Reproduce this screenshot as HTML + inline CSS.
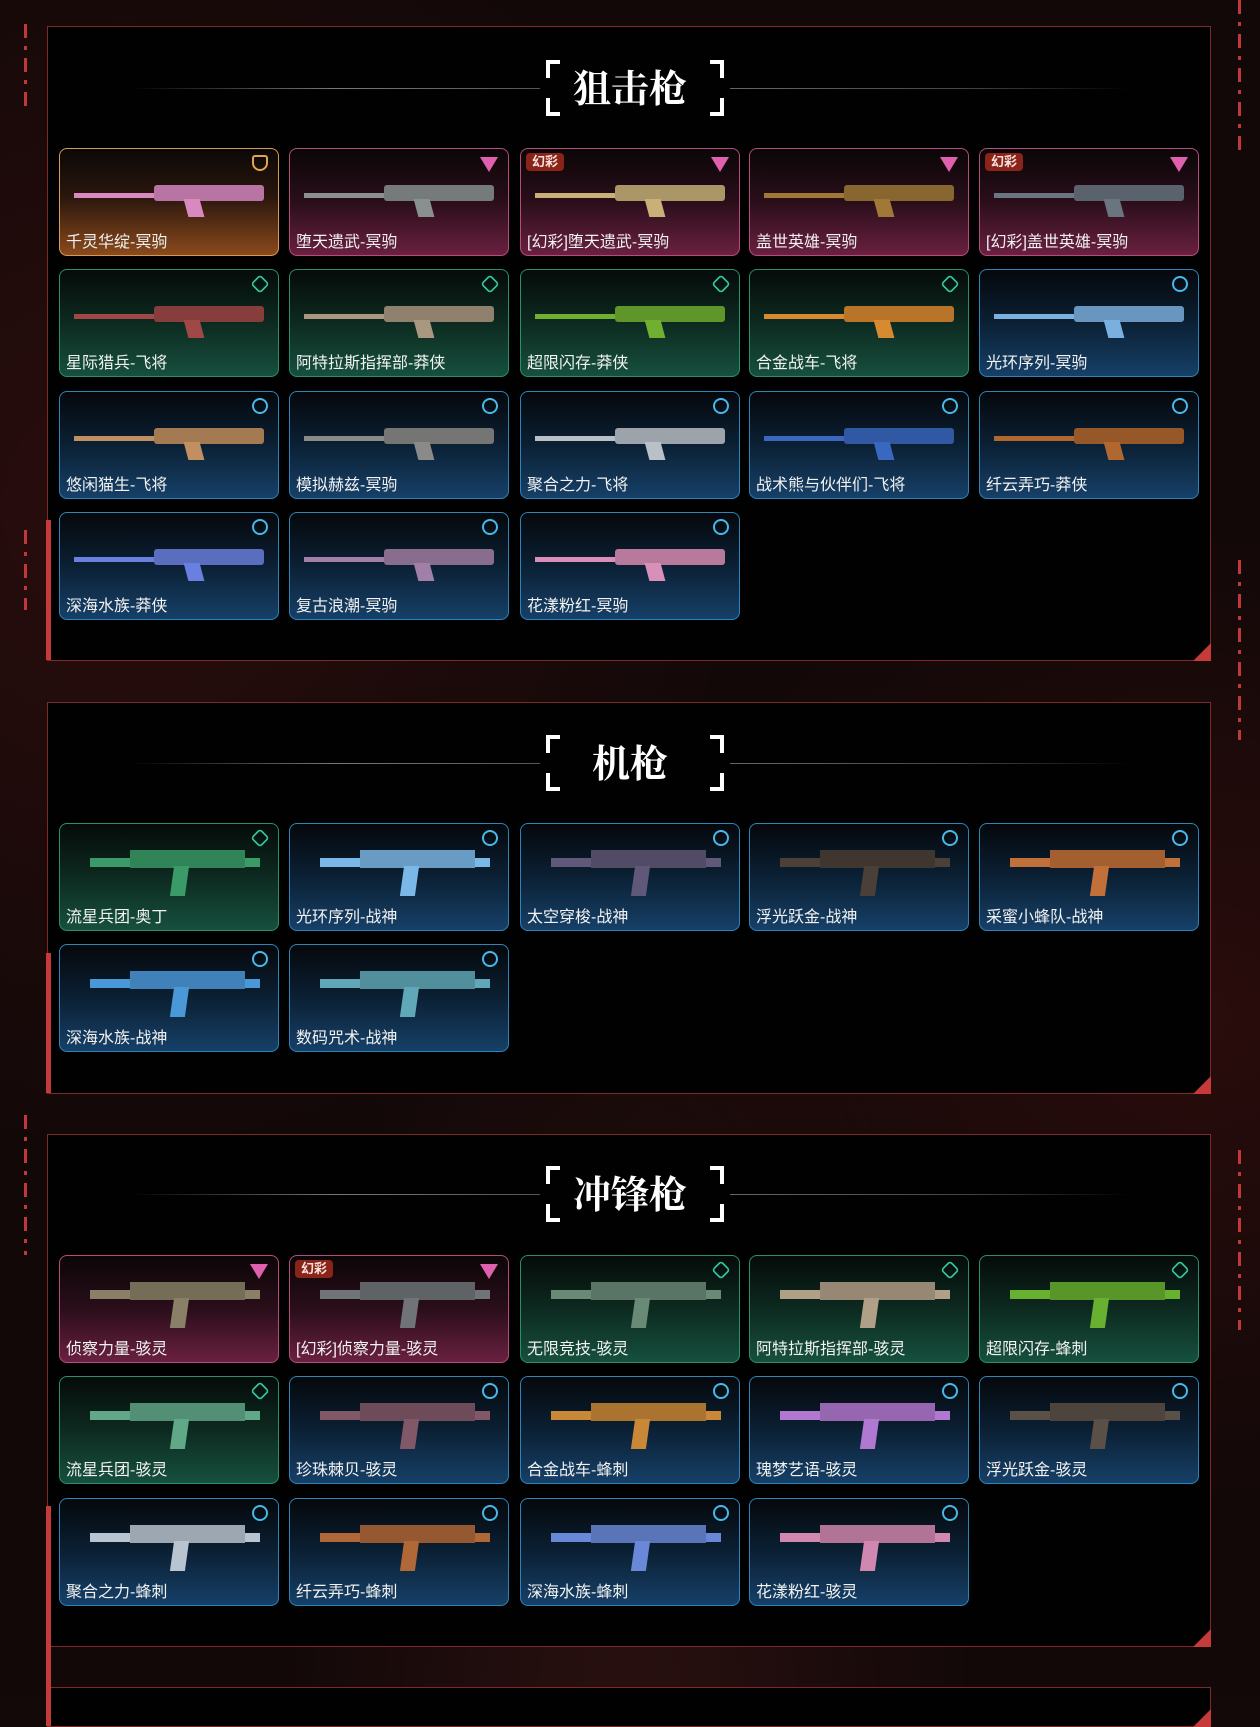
<!DOCTYPE html>
<html><head><meta charset="utf-8"><style>
*{margin:0;padding:0;box-sizing:border-box}
body{width:1260px;height:1694px;background:#140909;position:relative;overflow:hidden;font-family:"Liberation Sans","Noto Sans CJK SC",sans-serif}
.bgt{position:absolute;inset:0;background:radial-gradient(ellipse at 10% 30%,#2a0d0d 0,transparent 40%),radial-gradient(ellipse at 95% 60%,#2a0c0c 0,transparent 35%),radial-gradient(ellipse at 50% 105%,#2a1010 0,transparent 40%),#120808}
.p{position:absolute;left:47px;width:1164px;background:#020101;border:1px solid #7d2a2a}
.p:before{content:"";position:absolute;left:-2px;bottom:0;width:5px;height:140px;background:#c63a3a}
.p:after{content:"";position:absolute;right:-1px;bottom:-1px;border-left:18px solid transparent;border-bottom:18px solid #c63a3a}
.dash{position:absolute;width:3px;background:repeating-linear-gradient(#c0393a 0 14px,transparent 14px 22px,#c0393a 22px 26px,transparent 26px 34px)}
.t{position:absolute;left:0;width:1260px;text-align:center;color:#fff;font:700 38px "Liberation Serif","Noto Serif CJK SC",serif;line-height:50px}
.ln{position:absolute;height:1px;background:linear-gradient(90deg,transparent,#777 50%,#555)}
.ln.r{background:linear-gradient(90deg,#666,#444 60%,transparent)}
.br{position:absolute;width:14px;height:56px;border:4px solid #fff;border-right:none}
.br.rr{border:4px solid #fff;border-left:none}
.br i{position:absolute;left:-4px;top:14px;width:6px;height:20px;background:#020101}
.br.rr i{left:auto;right:-4px}
.c{position:absolute;width:220px;height:108px;border-radius:8px;overflow:hidden;border:1px solid}
.c span{position:absolute;left:0;right:0;bottom:0;height:24px;padding-left:6px;color:#f2f2f2;font-size:16px;line-height:24px;white-space:nowrap}
.o{border-color:#d59a55;background:linear-gradient(#0c0807 0,#2a160d 45%,#8a4a1c 100%)}
.k{border-color:#b44c7c;background:linear-gradient(#0b0607 0,#2a0e1a 50%,#6a2040 100%)}
.n{border-color:#2a8f70;background:linear-gradient(#050b09 0,#0d2a20 50%,#16503e 100%)}
.u{border-color:#2d84b8;background:linear-gradient(#05080c 0,#0b2034 50%,#164068 100%)}
.ic{position:absolute;right:10px;top:6px;width:16px;height:16px}
.u .ic{border:2px solid #47b8e8;border-radius:50%}
.n .ic{border:2px solid #35c6a0;transform:rotate(45deg) scale(.85);border-radius:4px}
.k .ic{width:0;height:0;border-left:9px solid transparent;border-right:9px solid transparent;border-top:15px solid #e060b0;top:8px}
.o .ic{border:2px solid #e2a54f;border-radius:3px 3px 8px 8px}
.hb{position:absolute;left:5px;top:4px;background:#8a2418;color:#f5e0dc;font-size:13px;line-height:18px;padding:0 6px;border-radius:4px}
.g{position:absolute;background:var(--k)}
.g:before,.g:after{content:"";position:absolute;background:var(--k)}
.s{left:14px;top:44px;width:150px;height:5px}
.s:before{left:80px;top:-8px;width:110px;height:16px;border-radius:3px;filter:brightness(.85)}
.s:after{left:112px;top:6px;width:16px;height:18px;transform:skewX(15deg)}
.m{left:30px;top:34px;width:170px;height:9px}
.m:before{left:40px;top:-8px;width:115px;height:18px;filter:brightness(.85)}
.m:after{left:82px;top:8px;width:15px;height:30px;transform:skewX(-8deg)}
</style></head><body>
<div class="bgt"></div>
<div class="dash" style="left:24px;top:24px;height:90px"></div>
<div class="dash" style="left:24px;top:530px;height:80px"></div>
<div class="dash" style="left:24px;top:1115px;height:140px"></div>
<div class="dash" style="left:1238px;top:0;height:150px"></div>
<div class="dash" style="left:1238px;top:560px;height:180px"></div>
<div class="dash" style="left:1238px;top:1150px;height:180px"></div>

<div class="p" style="top:26px;height:635px"></div>
<div class="p" style="top:702px;height:392px"></div>
<div class="p" style="top:1134px;height:513px"></div>
<div class="p" style="top:1687px;height:40px"></div>

<div class="ln" style="left:130px;width:410px;top:88px"></div><div class="ln r" style="left:730px;width:400px;top:88px"></div>
<div class="br" style="left:546px;top:60px"><i></i></div><div class="br rr" style="left:710px;top:60px"><i></i></div>
<div class="t" style="top:65px">狙击枪</div>

<div class="ln" style="left:130px;width:410px;top:763px"></div><div class="ln r" style="left:730px;width:400px;top:763px"></div>
<div class="br" style="left:546px;top:735px"><i></i></div><div class="br rr" style="left:710px;top:735px"><i></i></div>
<div class="t" style="top:740px">机枪</div>

<div class="ln" style="left:130px;width:410px;top:1194px"></div><div class="ln r" style="left:730px;width:400px;top:1194px"></div>
<div class="br" style="left:546px;top:1166px"><i></i></div><div class="br rr" style="left:710px;top:1166px"><i></i></div>
<div class="t" style="top:1171px">冲锋枪</div>

<div class="c o" style="left:59px;top:148px"><b class="ic"></b><b class="g s" style="--k:#d88ac0"></b><span>千灵华绽-冥驹</span></div>
<div class="c k" style="left:289px;top:148px"><b class="ic"></b><b class="g s" style="--k:#8a9090"></b><span>堕天遗武-冥驹</span></div>
<div class="c k" style="left:520px;top:148px"><b class="hb">幻彩</b><b class="ic"></b><b class="g s" style="--k:#c8b078"></b><span>[幻彩]堕天遗武-冥驹</span></div>
<div class="c k" style="left:749px;top:148px"><b class="ic"></b><b class="g s" style="--k:#a07838"></b><span>盖世英雄-冥驹</span></div>
<div class="c k" style="left:979px;top:148px"><b class="hb">幻彩</b><b class="ic"></b><b class="g s" style="--k:#6a7580"></b><span>[幻彩]盖世英雄-冥驹</span></div>

<div class="c n" style="left:59px;top:269px"><b class="ic"></b><b class="g s" style="--k:#a04848"></b><span>星际猎兵-飞将</span></div>
<div class="c n" style="left:289px;top:269px"><b class="ic"></b><b class="g s" style="--k:#a89880"></b><span>阿特拉斯指挥部-莽侠</span></div>
<div class="c n" style="left:520px;top:269px"><b class="ic"></b><b class="g s" style="--k:#70b030"></b><span>超限闪存-莽侠</span></div>
<div class="c n" style="left:749px;top:269px"><b class="ic"></b><b class="g s" style="--k:#d88a30"></b><span>合金战车-飞将</span></div>
<div class="c u" style="left:979px;top:269px"><b class="ic"></b><b class="g s" style="--k:#7ab0e0"></b><span>光环序列-冥驹</span></div>

<div class="c u" style="left:59px;top:391px"><b class="ic"></b><b class="g s" style="--k:#c09060"></b><span>悠闲猫生-飞将</span></div>
<div class="c u" style="left:289px;top:391px"><b class="ic"></b><b class="g s" style="--k:#8a8a88"></b><span>模拟赫兹-冥驹</span></div>
<div class="c u" style="left:520px;top:391px"><b class="ic"></b><b class="g s" style="--k:#b8c0c8"></b><span>聚合之力-飞将</span></div>
<div class="c u" style="left:749px;top:391px"><b class="ic"></b><b class="g s" style="--k:#3a68c0"></b><span>战术熊与伙伴们-飞将</span></div>
<div class="c u" style="left:979px;top:391px"><b class="ic"></b><b class="g s" style="--k:#b06830"></b><span>纤云弄巧-莽侠</span></div>

<div class="c u" style="left:59px;top:512px"><b class="ic"></b><b class="g s" style="--k:#6a80e0"></b><span>深海水族-莽侠</span></div>
<div class="c u" style="left:289px;top:512px"><b class="ic"></b><b class="g s" style="--k:#a080a8"></b><span>复古浪潮-冥驹</span></div>
<div class="c u" style="left:520px;top:512px"><b class="ic"></b><b class="g s" style="--k:#d890b8"></b><span>花漾粉红-冥驹</span></div>

<div class="c n" style="left:59px;top:823px"><b class="ic"></b><b class="g m" style="--k:#3a9a68"></b><span>流星兵团-奥丁</span></div>
<div class="c u" style="left:289px;top:823px"><b class="ic"></b><b class="g m" style="--k:#7ab8e8"></b><span>光环序列-战神</span></div>
<div class="c u" style="left:520px;top:823px"><b class="ic"></b><b class="g m" style="--k:#605878"></b><span>太空穿梭-战神</span></div>
<div class="c u" style="left:749px;top:823px"><b class="ic"></b><b class="g m" style="--k:#4a4038"></b><span>浮光跃金-战神</span></div>
<div class="c u" style="left:979px;top:823px"><b class="ic"></b><b class="g m" style="--k:#c07038"></b><span>采蜜小蜂队-战神</span></div>
<div class="c u" style="left:59px;top:944px"><b class="ic"></b><b class="g m" style="--k:#4a98d8"></b><span>深海水族-战神</span></div>
<div class="c u" style="left:289px;top:944px"><b class="ic"></b><b class="g m" style="--k:#60a8b8"></b><span>数码咒术-战神</span></div>

<div class="c k" style="left:59px;top:1255px"><b class="ic"></b><b class="g m" style="--k:#8a8068"></b><span>侦察力量-骇灵</span></div>
<div class="c k" style="left:289px;top:1255px"><b class="hb">幻彩</b><b class="ic"></b><b class="g m" style="--k:#707478"></b><span>[幻彩]侦察力量-骇灵</span></div>
<div class="c n" style="left:520px;top:1255px"><b class="ic"></b><b class="g m" style="--k:#6a8a78"></b><span>无限竞技-骇灵</span></div>
<div class="c n" style="left:749px;top:1255px"><b class="ic"></b><b class="g m" style="--k:#b0a088"></b><span>阿特拉斯指挥部-骇灵</span></div>
<div class="c n" style="left:979px;top:1255px"><b class="ic"></b><b class="g m" style="--k:#68b030"></b><span>超限闪存-蜂刺</span></div>

<div class="c n" style="left:59px;top:1376px"><b class="ic"></b><b class="g m" style="--k:#60a888"></b><span>流星兵团-骇灵</span></div>
<div class="c u" style="left:289px;top:1376px"><b class="ic"></b><b class="g m" style="--k:#805868"></b><span>珍珠棘贝-骇灵</span></div>
<div class="c u" style="left:520px;top:1376px"><b class="ic"></b><b class="g m" style="--k:#c88838"></b><span>合金战车-蜂刺</span></div>
<div class="c u" style="left:749px;top:1376px"><b class="ic"></b><b class="g m" style="--k:#b078d0"></b><span>瑰梦艺语-骇灵</span></div>
<div class="c u" style="left:979px;top:1376px"><b class="ic"></b><b class="g m" style="--k:#5a5048"></b><span>浮光跃金-骇灵</span></div>

<div class="c u" style="left:59px;top:1498px"><b class="ic"></b><b class="g m" style="--k:#b8c4d0"></b><span>聚合之力-蜂刺</span></div>
<div class="c u" style="left:289px;top:1498px"><b class="ic"></b><b class="g m" style="--k:#b06838"></b><span>纤云弄巧-蜂刺</span></div>
<div class="c u" style="left:520px;top:1498px"><b class="ic"></b><b class="g m" style="--k:#6a88d8"></b><span>深海水族-蜂刺</span></div>
<div class="c u" style="left:749px;top:1498px"><b class="ic"></b><b class="g m" style="--k:#d088b0"></b><span>花漾粉红-骇灵</span></div>
</body></html>
